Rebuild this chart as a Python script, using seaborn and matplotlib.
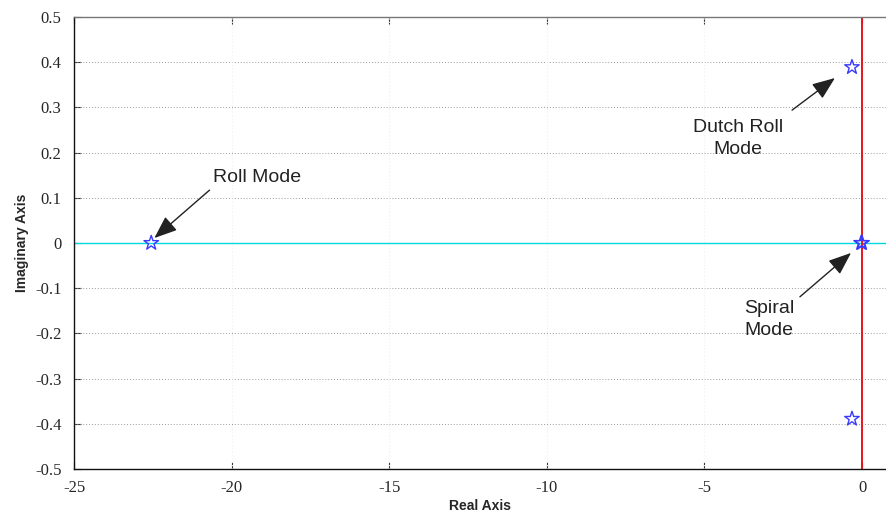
import matplotlib
matplotlib.use("Agg")
import matplotlib.pyplot as plt
import seaborn as sns
import pandas as pd

# Lateral-directional eigenvalues (real, imaginary)
mode_names = ["Roll", "Dutch Roll +", "Dutch Roll -", "Spiral", "Heading"]
pole_real = [-22.55, -0.32, -0.32, 0.0, -0.03]
pole_imag = [0.0, 0.389, -0.389, 0.0, 0.0]

x_ticks = [-25, -20, -15, -10, -5, 0]
y_ticks = [-0.5, -0.4, -0.3, -0.2, -0.1, 0, 0.1, 0.2, 0.3, 0.4, 0.5]
y_tick_labels = ["-0.5", "-0.4", "-0.3", "-0.2", "-0.1", "0",
                 "0.1", "0.2", "0.3", "0.4", "0.5"]

# annotations: label, text position, arrow tail, arrow head
notes = [
    ("Roll Mode", (-19.2, 0.144), (-20.7, 0.117), (-22.45, 0.011)),
    ("Dutch Roll\nMode", (-3.93, 0.232), (-2.22, 0.294), (-0.86, 0.365)),
    ("Spiral\nMode", (-2.95, -0.17), (-1.97, -0.119), (-0.35, -0.022)),
]

poles = pd.DataFrame({"mode": mode_names, "re": pole_real, "im": pole_imag})

sns.set_style("white")
fig = plt.figure(figsize=(8.86, 5.2), dpi=100)
ax = fig.add_axes([74 / 886, 1 - 469 / 520, 1 - 74 / 886, (469 - 17) / 520])

# dotted grid
for yv in [-0.4, -0.3, -0.2, -0.1, 0.1, 0.2, 0.3, 0.4]:
    ax.axhline(yv, color="#9a9a9a", lw=0.7, ls=(0, (1, 2)), zorder=1)
for xv in [-20, -15, -10, -5]:
    ax.axvline(xv, color="#f0f0f0", lw=0.8, ls=(0, (1, 2)), zorder=1)

ax.axhline(0, color="#00d8e0", lw=1.0, zorder=2)
ax.axvline(0, color="#e8141c", lw=1.4, zorder=2)

sns.scatterplot(data=poles, x="re", y="im", marker="*", s=120,
                facecolors="none", edgecolors="#3a3aff", linewidths=1.0,
                ax=ax, zorder=3, legend=False)

for label, txt, tail, head in notes:
    ax.annotate("", xy=head, xytext=tail,
                arrowprops=dict(arrowstyle="-|>,head_length=1.4,head_width=0.55",
                                color="#222222", lw=1.0, shrinkA=0, shrinkB=0),
                zorder=4)
    ax.text(txt[0], txt[1], label, ha="center", va="center", ma="center",
            fontsize=14, family="Liberation Sans", color="#222222",
            linespacing=1.4, zorder=4)

ax.set_xlim(-25, 0.76)
ax.set_ylim(-0.5, 0.5)
ax.set_xticks(x_ticks)
ax.set_xticklabels([str(t) for t in x_ticks], family="Liberation Serif", fontsize=12)
ax.set_yticks(y_ticks)
ax.set_yticklabels(y_tick_labels, family="Liberation Serif", fontsize=12)
ax.tick_params(direction="in", length=5, width=0.8, color="#333333",
               top=True, right=False, bottom=True, left=True)
ax.tick_params(axis="x", pad=8)
ax.tick_params(axis="y", pad=9)

ax.set_xlabel("Real Axis", family="Liberation Sans", fontweight="bold",
              fontsize=10, labelpad=2)
ax.set_ylabel("Imaginary Axis", family="Liberation Sans", fontweight="bold",
              fontsize=10, labelpad=4)

for side in ["left", "bottom"]:
    ax.spines[side].set_color("#111111")
    ax.spines[side].set_linewidth(1.0)
ax.spines["top"].set_color("#777777")
ax.spines["top"].set_linewidth(1.0)
ax.spines["right"].set_visible(False)

fig.savefig("out.png", dpi=100)
